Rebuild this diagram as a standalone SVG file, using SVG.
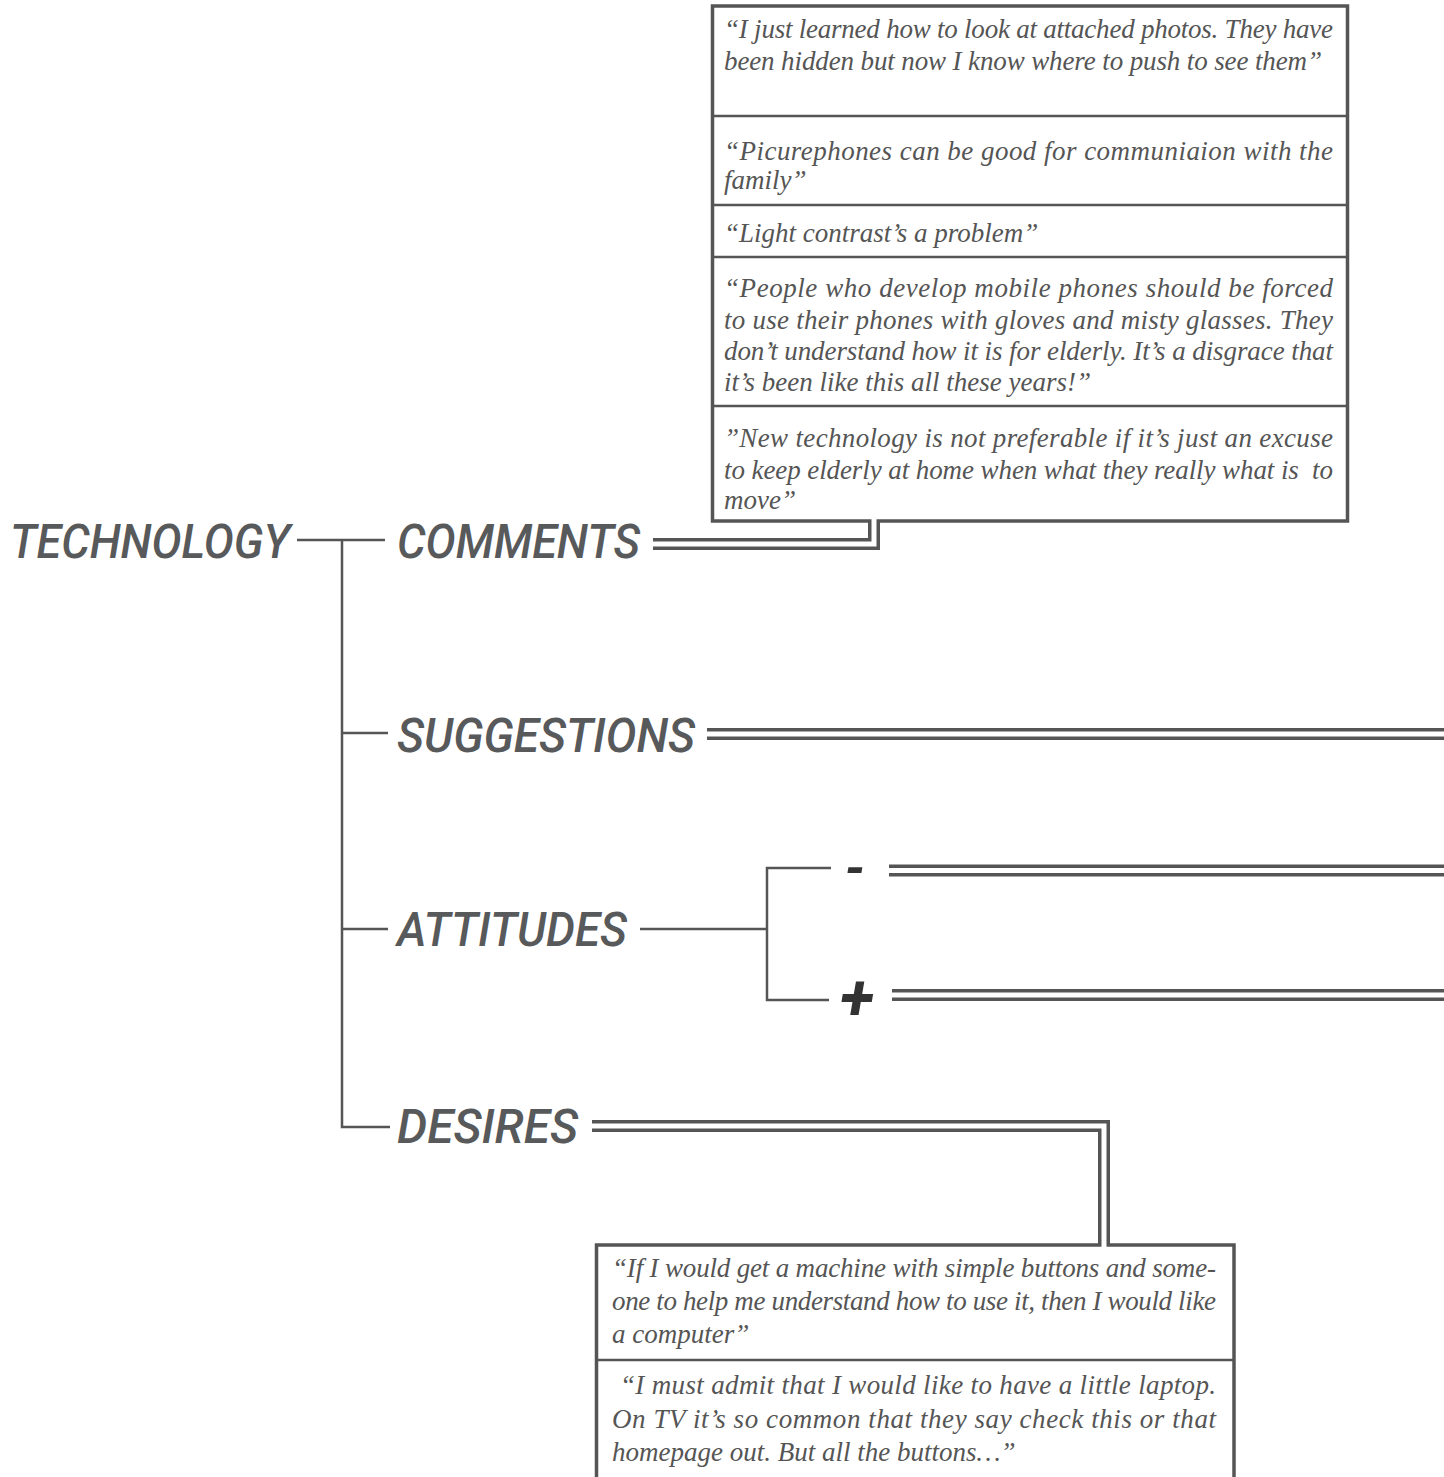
<svg xmlns="http://www.w3.org/2000/svg" width="1444" height="1477" viewBox="0 0 1444 1477">
<style>
.lbl{font-family:Roboto,"DejaVu Sans",sans-serif;font-style:italic;font-weight:500;font-size:48px;fill:#58595b}
.sign{font-family:Roboto,"DejaVu Sans",sans-serif;font-style:italic;font-weight:bold;fill:#333}
.q{font-family:"Liberation Serif",serif;font-style:italic;font-size:27px;fill:#555}
.ln{fill:none;stroke:#555;stroke-width:2.5}
.dbo{fill:none;stroke:#555;stroke-width:12}
.dbi{fill:none;stroke:#fff;stroke-width:5}
.box{fill:#fff;stroke:#555;stroke-width:3.5}
.sep{stroke:#555;stroke-width:2.5}
</style>
<rect width="1444" height="1477" fill="#fff"/>
<g id="connectors">
<path class="ln" d="M297,540 H385"/>
<path class="ln" d="M342,540 V1127 H390"/>
<path class="ln" d="M342,733 H388"/>
<path class="ln" d="M342,929 H388"/>
<path class="ln" d="M640,929 H767"/>
<path class="ln" d="M831,868 H767 V1000 H829"/>
<path class="dbo" d="M653,544 H874 V520"/>
<path class="dbo" d="M707,734 H1444"/>
<path class="dbo" d="M889,870.5 H1444"/>
<path class="dbo" d="M892,995 H1444"/>
<path class="dbo" d="M592,1126 H1104 V1246"/>
<path class="dbi" d="M707,734 H1444"/>
<path class="dbi" d="M889,870.5 H1444"/>
<path class="dbi" d="M892,995 H1444"/>
</g>
<g id="technology"><text class="lbl" x="10" y="558" textLength="280" lengthAdjust="spacingAndGlyphs">TECHNOLOGY</text></g>
<g id="comments"><text class="lbl" x="397" y="558" textLength="243" lengthAdjust="spacingAndGlyphs">COMMENTS</text></g>
<g id="suggestions"><text class="lbl" x="397" y="752" textLength="298" lengthAdjust="spacingAndGlyphs">SUGGESTIONS</text></g>
<g id="attitudes"><text class="lbl" x="397" y="946" textLength="230" lengthAdjust="spacingAndGlyphs">ATTITUDES</text></g>
<g id="desires"><text class="lbl" x="397" y="1143" textLength="181" lengthAdjust="spacingAndGlyphs">DESIRES</text></g>
<g id="minus"><text class="sign" x="845" y="886" font-size="52">-</text></g>
<g id="plus"><text class="sign" x="840" y="1020" font-size="64">+</text></g>
<g id="comments-box">
<rect class="box" x="712.5" y="6" width="635" height="515"/>
<path class="dbi" d="M653,544 H874 V517"/>
<line class="sep" x1="712" y1="116" x2="1348" y2="116"/>
<line class="sep" x1="712" y1="205" x2="1348" y2="205"/>
<line class="sep" x1="712" y1="257" x2="1348" y2="257"/>
<line class="sep" x1="712" y1="406" x2="1348" y2="406"/>
<text class="q" x="724" y="38" textLength="609" lengthAdjust="spacing">“I just learned how to look at attached photos. They have</text>
<text class="q" x="724" y="70" textLength="598" lengthAdjust="spacing">been hidden but now I know where to push to see them”</text>
<text class="q" x="724" y="160" textLength="609" lengthAdjust="spacing">“Picurephones can be good for communiaion with the</text>
<text class="q" x="724" y="189">family”</text>
<text class="q" x="724" y="242">“Light contrast’s a problem”</text>
<text class="q" x="724" y="297" textLength="609" lengthAdjust="spacing">“People who develop mobile phones should be forced</text>
<text class="q" x="724" y="329" textLength="609" lengthAdjust="spacing">to use their phones with gloves and misty glasses. They</text>
<text class="q" x="724" y="360" textLength="609" lengthAdjust="spacing">don’t understand how it is for elderly. It’s a disgrace that</text>
<text class="q" x="724" y="391">it’s been like this all these years!”</text>
<text class="q" x="724" y="447" textLength="609" lengthAdjust="spacing">”New technology is not preferable if it’s just an excuse</text>
<text class="q" x="724" y="479" textLength="609" lengthAdjust="spacing" xml:space="preserve">to keep elderly at home when what they really what is  to</text>
<text class="q" x="724" y="509">move”</text>
</g>
<g id="desires-box">
<rect class="box" x="596.5" y="1245" width="637.5" height="260"/>
<path class="dbi" d="M592,1126 H1104 V1250"/>
<line class="sep" x1="596" y1="1360" x2="1234" y2="1360"/>
<text class="q" x="612" y="1277" textLength="604" lengthAdjust="spacing">“If I would get a machine with simple buttons and some-</text>
<text class="q" x="612" y="1310" textLength="604" lengthAdjust="spacing">one to help me understand how to use it, then I would like</text>
<text class="q" x="612" y="1343">a computer”</text>
<text class="q" x="620" y="1394" textLength="596" lengthAdjust="spacing">“I must admit that I would like to have a little laptop.</text>
<text class="q" x="612" y="1428" textLength="604" lengthAdjust="spacing">On TV it’s so common that they say check this or that</text>
<text class="q" x="612" y="1461">homepage out. But all the buttons…”</text>
</g>
</svg>
